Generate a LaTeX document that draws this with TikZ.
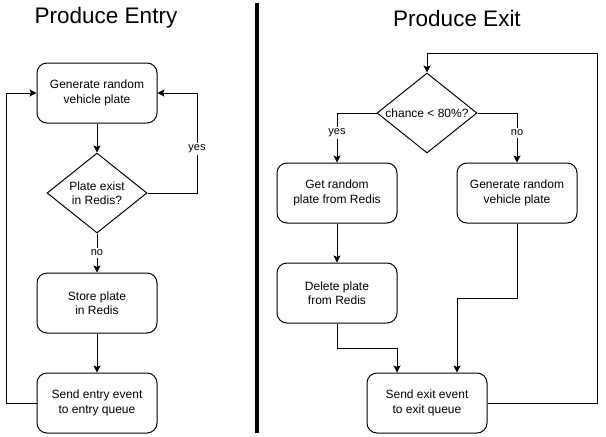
\documentclass[tikz,border=0pt]{standalone}
\usepackage{fontspec}
\setmainfont{Liberation Sans}
\usetikzlibrary{shapes.geometric,arrows.meta}
\begin{document}
\begin{tikzpicture}[x=1pt,y=-1pt,
  box/.style={draw,line width=1pt,rounded corners=10pt,minimum width=120pt,minimum height=60pt,align=center,inner sep=0pt,font=\fontsize{12}{14.5}\selectfont},
  dec/.style={draw,line width=1pt,diamond,minimum width=100pt,minimum height=80pt,inner sep=0pt},
  dtext/.style={align=center,inner sep=0pt,font=\fontsize{12}{14.5}\selectfont},
  arr/.style={line width=1pt,-{Stealth[length=7pt,width=7pt,inset=1.5pt]}},
  lbl/.style={fill=white,inner sep=1.5pt,font=\fontsize{11}{13}\selectfont},
  ttl/.style={font=\fontsize{22.5}{26}\selectfont,inner sep=0pt}]
\useasboundingbox (0,0) rectangle (606,437);
% titles and divider
\node[ttl] (t1) at (106,18) {Produce Entry};
\node[ttl] (t2) at (457,18) {Produce Exit};
\draw[line width=4pt] (257,3) -- (257,433);
% entry
\node[box] (g1) at (97,93) {Generate random\\vehicle plate};
\node[dec] (d1) at (97,193) {};
\node[dtext] (d1t) at (97,193) {Plate exist\\in Redis?};
\node[box] (s1) at (97,303) {Store plate\\in Redis};
\node[box] (e1) at (97,403) {Send entry event\\to entry queue};
\draw[arr] (g1.south) -- (d1.north);
\draw[arr] (d1.east) -- ++(50,0) |- (g1.east);
\node[lbl] (ly1) at (197,149) {yes};
\draw[arr] (d1.south) -- (s1.north);
\node[lbl] (ln1) at (97,253) {no};
\draw[arr] (s1.south) -- (e1.north);
\draw[arr] (e1.west) -- ++(-30,0) |- (g1.west);
% exit
\node[dec] (d2) at (427,113) {};
\node[dtext] (d2t) at (427,113) {chance \textless{} 80\%?};
\node[box] (gr) at (337,193) {Get random\\plate from Redis};
\node[box] (gv) at (517,193) {Generate random\\vehicle plate};
\node[box] (dp) at (337,293) {Delete plate\\from Redis};
\node[box] (se) at (427,403) {Send exit event\\to exit queue};
\draw[arr] (d2.west) -| (gr.north);
\node[lbl] (ly2) at (337,133) {yes};
\draw[arr] (d2.east) -| (gv.north);
\node[lbl] (ln2) at (517,133) {no};
\draw[arr] (gr.south) -- (dp.north);
\draw[arr] (dp.south) -- ++(0,25) -| ([xshift=-30pt]se.north);
\draw[arr] (gv.south) -- ++(0,75) -| ([xshift=30pt]se.north);
\coordinate (c1) at (597,53);
\draw[arr] (se.east) -| (c1) -| (d2.north);
\end{tikzpicture}
\end{document}
